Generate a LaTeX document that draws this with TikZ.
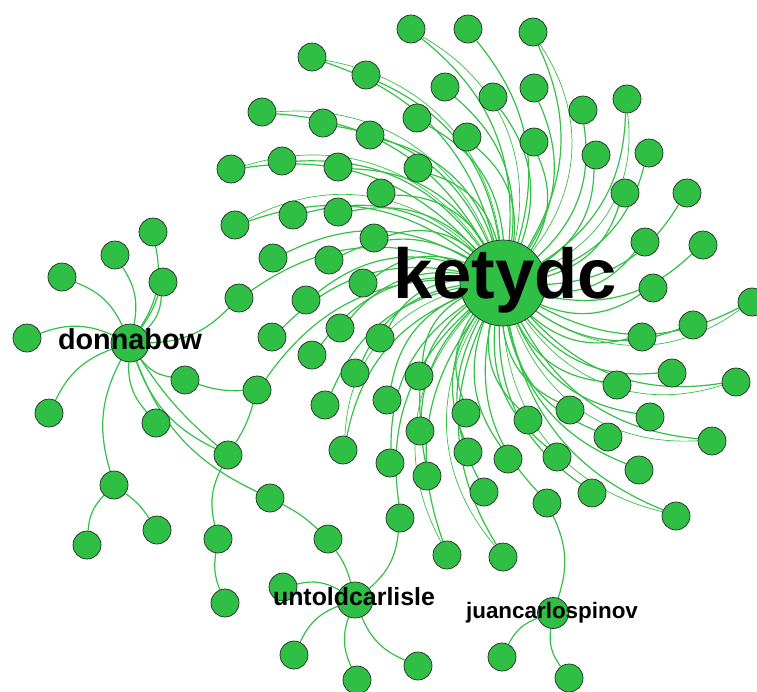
\documentclass[tikz,border=0pt]{standalone}
\usepackage{fontspec}
\setmainfont{Liberation Sans}
\usetikzlibrary{backgrounds}
\definecolor{nodegreen}{RGB}{47,191,69}
\definecolor{edgegreen}{RGB}{52,192,72}
\begin{document}
\begin{tikzpicture}[x=1pt,y=-1pt,
  leaf/.style={circle,draw=black!85,line width=0.7pt,fill=nodegreen,minimum size=28pt,inner sep=0pt},
  hub/.style={leaf,minimum size=#1},
  link/.style={draw=edgegreen,line width=1.2pt},
  fine link/.style={draw=edgegreen,line width=0.7pt},
  lbl/.style={anchor=base,inner sep=0pt,text=black}]
\useasboundingbox (0,0) rectangle (757,691);

% hubs
\node[hub=86pt] (kety) at (503,283) {};
\node[hub=38pt] (donna) at (130,343) {};
\node[hub=36pt] (untold) at (355,600) {};
\node[hub=31pt] (juan) at (553,613) {};

% followers of ketydc
\foreach \n/\x/\y in {
  k1/411/29, k2/468/29, k3/533/32, k4/312/57, k5/366/75, k6/445/87,
  k7/493/97, k8/534/88, k9/262/112, k10/323/123, k11/370/135, k12/417/118,
  k13/467/137, k14/534/142, k15/583/110, k16/627/99, k17/231/169, k18/282/161,
  k19/338/167, k20/418/168, k21/596/155, k22/649/153, k23/381/193, k24/625/193,
  k25/687/193, k26/235/225, k27/293/215, k28/338/212, k29/374/238, k30/645/242,
  k31/703/245, k32/273/258, k33/329/260, k34/239/298, k35/306/300, k36/363/283,
  k37/653/288, k38/752/302, k39/693/325, k40/642/337, k41/340/328, k42/272/337,
  k43/380/338, k44/312/355, k45/355/373, k46/257/390, k47/325/405, k48/387/400,
  k49/419/376, k50/466/413, k51/528/420, k52/570/410, k53/617/385, k54/672/373,
  k55/736/382, k56/343/450, k57/420/431, k58/468/452, k59/508/459, k60/557/457,
  k61/608/437, k62/650/417, k63/712/441, k64/390/463, k65/427/476, k66/484/492,
  k67/547/503, k68/592/493, k69/639/470, k70/676/516, k71/400/518, k72/447/555,
  k73/503/557}
  \node[leaf] (\n) at (\x,\y) {};

% followers of donnabow
\foreach \n/\x/\y in {
  d1/27/338, d2/62/277, d3/115/255, d4/153/232, d5/163/282, d6/49/413,
  d7/114/485, d8/156/423, d9/185/380, d10/228/455, d11/270/498, d12/87/545,
  d13/157/530, d14/218/539, d15/225/603, d16/328/539}
  \node[leaf] (\n) at (\x,\y) {};

% followers of untoldcarlisle and juancarlospinov
\foreach \n/\x/\y in {u1/283/587, u2/294/655, u3/357/680, u4/418/666,
  j1/502/657, j2/569/678}
  \node[leaf] (\n) at (\x,\y) {};

\begin{scope}[on background layer]
  % edges of the central hub
  \foreach \t in {k1,k2,k3,k4,k5,k6,k7,k8,k9,k10,k11,k12,k13,k14,k15,k16,k17,
    k18,k19,k20,k21,k22,k23,k24,k25,k26,k27,k28,k29,k30,k31,k32,k33,k34,k35,
    k36,k37,k38,k39,k40,k41,k42,k43,k44,k45,k46,k47,k48,k49,k50,k51,k52,k53,
    k54,k55,k56,k57,k58,k59,k60,k61,k62,k63,k64,k65,k66,k67,k68,k69,k70,k71,
    k72,k73}
    \draw[link] (kety) to[bend right=28] (\t);
  \foreach \t in {k1,k4,k9,k17,k26,k38,k55,k63,k70,k72,k73,k56,k3,k16}
    \draw[fine link] (kety) to[bend right=36] (\t);

  % edges of donnabow
  \foreach \t in {d1,d2,d3,d4,d5,d6,d7,d8,d9,d10,d11,k34}
    \draw[link] (donna) to[bend right=22] (\t);
  \draw[link] (donna) to[bend right=8] (d5);
  \draw[link] (donna) to[bend right=8] (d10);
  \draw[link] (d9) to[bend right=10] (k46);
  \draw[link] (k46) to[bend left=8] (d10);
  \draw[link] (d7) to[bend right=20] (d12);
  \draw[link] (d7) to[bend left=10] (d13);
  \draw[link] (d10) to[bend right=20] (d14);
  \draw[link] (d14) to[bend right=15] (d15);
  \draw[link] (d11) to[bend left=8] (d16);
  \draw[link] (d16) to[bend left=10] (untold);

  % edges of untoldcarlisle
  \foreach \t in {u1,u2,u3,u4,k71}
    \draw[link] (untold) to[bend right=22] (\t);

  % edges of juancarlospinov
  \foreach \t in {j1,j2,k67}
    \draw[link] (juan) to[bend right=22] (\t);
\end{scope}

% user names
\node[lbl,font=\fontsize{70.7}{80}\selectfont\bfseries] (ketyname) at (505,298) {ketydc};
\node[lbl,font=\fontsize{28.8}{32}\selectfont\bfseries] (donnaname) at (130,349) {donnabow};
\node[lbl,font=\fontsize{24.9}{28}\selectfont\bfseries] (untoldname) at (354,605) {untoldcarlisle};
\node[lbl,font=\fontsize{22.4}{26}\selectfont\bfseries] (juanname) at (552,618) {juancarlospinov};
\end{tikzpicture}
\end{document}
